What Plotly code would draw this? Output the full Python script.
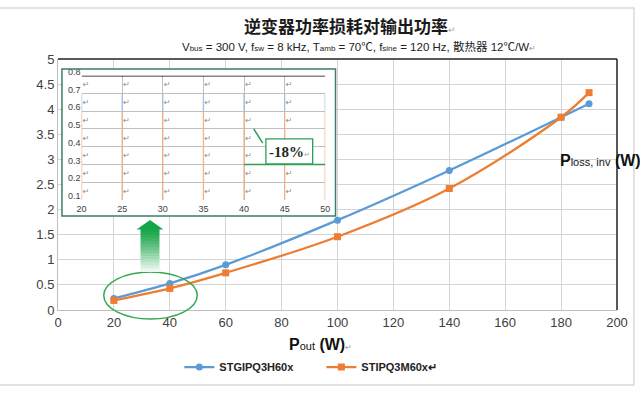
import plotly.graph_objects as go

# ---- data ----
pout = [20, 40, 60, 100, 140, 180, 190]
loss_h60 = [0.23, 0.53, 0.90, 1.79, 2.78, 3.84, 4.11]   # STGIPQ3H60x
loss_m60 = [0.19, 0.43, 0.74, 1.46, 2.42, 3.84, 4.33]   # STIPQ3M60x
series_names = ["STGIPQ3H60x", "STIPQ3M60x↵"]

main_xticks = [0, 20, 40, 60, 80, 100, 120, 140, 160, 180, 200]
main_yticks = [0, 0.5, 1, 1.5, 2, 2.5, 3, 3.5, 4, 4.5, 5]
inset_xticks = [20, 25, 30, 35, 40, 45, 50]
inset_yticks = [0.1, 0.2, 0.3, 0.4, 0.5, 0.6, 0.7, 0.8]

BLUE = "#5b9bd5"
ORANGE = "#ed7d31"
GREEN = "#2f9e55"
TEAL = "#3a7d6a"

W, H = 640, 397
L, R, T, B = 58, 20, 59, 87
PW, PH = W - L - R, H - T - B

BOX = (42.69, 48.45, 0.303, 0.444)  # -18% callout box in inset axis units


def px(x):
    return (x - L) / PW


def py(y):
    return (H - B - y) / PH


fig = go.Figure()

# main traces
fig.add_trace(go.Scatter(x=pout, y=loss_h60, name=f"<b>{series_names[0]}</b>", mode="lines+markers",
                         line=dict(color=BLUE, width=2.25, shape="spline"),
                         marker=dict(symbol="circle", size=7, color=BLUE),
                         xaxis="x", yaxis="y"))
fig.add_trace(go.Scatter(x=pout, y=loss_m60, name=f"<b>{series_names[1]}</b>", mode="lines+markers",
                         line=dict(color=ORANGE, width=2.25, shape="spline"),
                         marker=dict(symbol="square", size=7, color=ORANGE),
                         xaxis="x", yaxis="y"))

# white cover subplot (x2/y2) behind the inset
fig.add_trace(go.Scatter(x=[None], y=[None], xaxis="x2", yaxis="y2", showlegend=False,
                         hoverinfo="skip"))

# inset coloured vertical segments (x3/y3)
ox, oy, bx, by = [], [], [], []
for xv in inset_xticks:
    ox += [xv, xv, None]
    oy += [0.1, 0.6, None]
    bx += [xv, xv, None]
    by += [0.6, 0.7, None]
fig.add_trace(go.Scatter(x=ox, y=oy, mode="lines", line=dict(color="#f4b183", width=1.3),
                         xaxis="x3", yaxis="y3", showlegend=False, hoverinfo="skip"))
fig.add_trace(go.Scatter(x=bx, y=by, mode="lines", line=dict(color="#9dc3e6", width=1.3),
                         xaxis="x3", yaxis="y3", showlegend=False, hoverinfo="skip"))
fig.add_trace(go.Scatter(x=[20, 50], y=[0.8, 0.8], mode="lines", line=dict(color="#111111", width=1.5),
                         xaxis="x3", yaxis="y3", showlegend=False, hoverinfo="skip"))

# paragraph marks in the inset cells (skipping those hidden by the callout box)
mx, my = [], []
for xv in inset_xticks:
    for yv in inset_yticks[:-1]:
        mxv, myv = xv + 0.55, yv + 0.045
        if BOX[0] - 0.3 <= mxv <= BOX[1] + 0.3 and BOX[2] - 0.02 <= myv <= BOX[3] + 0.02:
            continue
        mx.append(mxv)
        my.append(myv)
fig.add_trace(go.Scatter(x=mx, y=my, mode="text", text=["↵"] * len(mx),
                         textfont=dict(size=8, color="#8c8c8c", family="DejaVu Sans"),
                         xaxis="x3", yaxis="y3", showlegend=False, hoverinfo="skip",
                         cliponaxis=False))

tickfont = dict(family="Liberation Sans, Arial", size=13, color="#404040")
inset_font = dict(family="Liberation Sans, Arial", size=9, color="#404040")

fig.update_layout(
    width=W, height=H,
    margin=dict(l=L, r=R, t=T, b=B),
    paper_bgcolor="white", plot_bgcolor="white",
    showlegend=True,
    legend=dict(orientation="h", x=px(180), y=py(367), xanchor="left", yanchor="middle",
                font=dict(family="Liberation Sans Narrow, Liberation Sans, Arial", size=11, color="#222222"),
                entrywidth=97, itemwidth=30, bgcolor="rgba(0,0,0,0)"),
    xaxis=dict(range=[0, 200], tickvals=main_xticks, showgrid=True, gridcolor="#d4d4d4", gridwidth=1,
               zeroline=False, showline=True, linecolor="#bfbfbf", tickfont=tickfont, ticks="",
               fixedrange=True),
    yaxis=dict(range=[0, 5], tickvals=main_yticks, ticktext=[str(v) for v in main_yticks],
               showgrid=True, gridcolor="#d4d4d4", gridwidth=1, zeroline=False, showline=True,
               linecolor="#bfbfbf", tickfont=tickfont, ticks="", fixedrange=True),
    xaxis2=dict(domain=[px(62), px(337)], anchor="y2", range=[0, 1], visible=False, showgrid=False),
    yaxis2=dict(domain=[py(216), py(69)], anchor="x2", range=[0, 1], visible=False, showgrid=False),
    xaxis3=dict(domain=[px(81.7), px(326.7)], anchor="y3", range=[20, 50], tickvals=inset_xticks,
                showgrid=True, gridcolor="#bfbfbf", zeroline=False, showline=False,
                tickfont=inset_font, ticks="", ticklabelstandoff=2),
    yaxis3=dict(domain=[py(200), py(75.7)], anchor="x3", range=[0.1, 0.8], tickvals=inset_yticks,
                ticktext=[f"{v:.1f}" for v in inset_yticks],
                showgrid=True, gridcolor="#bfbfbf", zeroline=False, showline=False,
                tickfont=inset_font, ticks="", ticklabelshift=-4),
)

shapes = []
# outer light frame
shapes.append(dict(type="rect", xref="paper", yref="paper", x0=px(-2), x1=px(637), y0=py(385), y1=py(8),
                   line=dict(color="#d9d9d9", width=1.5), fillcolor="rgba(0,0,0,0)", layer="below"))
# main plot top and right black borders
shapes.append(dict(type="line", xref="paper", yref="paper", x0=0, x1=1, y0=1, y1=1,
                   line=dict(color="#222222", width=1.5)))
shapes.append(dict(type="line", xref="paper", yref="paper", x0=1, x1=1, y0=0, y1=1,
                   line=dict(color="#222222", width=1.5)))
# inset green border
shapes.append(dict(type="rect", xref="paper", yref="paper", x0=px(62), x1=px(337), y0=py(216), y1=py(69),
                   line=dict(color=TEAL, width=1.5), fillcolor="rgba(0,0,0,0)"))
# -18% box and pointers (inset axes coords)
shapes.append(dict(type="line", xref="x3", yref="y3", x0=40, x1=50, y0=0.3, y1=0.3,
                   line=dict(color=GREEN, width=1.3)))
shapes.append(dict(type="rect", xref="x3", yref="y3", x0=BOX[0], x1=BOX[1], y0=BOX[2], y1=BOX[3],
                   line=dict(color=GREEN, width=1.3), fillcolor="white"))
shapes.append(dict(type="line", xref="x3", yref="y3", x0=41.2, x1=42.3, y0=0.50, y1=0.42,
                   line=dict(color=GREEN, width=1.5)))
# ellipse highlighting low-power region
shapes.append(dict(type="circle", xref="paper", yref="paper", x0=px(104), x1=px(198), y0=py(319), y1=py(272),
                   line=dict(color="#33a852", width=1.5), fillcolor="rgba(0,0,0,0)"))
# arrow shaft with fading gradient
n = 14
top, bot = 229, 272
for i in range(n):
    y0p = top + (bot - top) * i / n
    y1p = top + (bot - top) * (i + 1) / n
    a = 1 - i / n
    g_r = int(26 + (255 - 26) * (1 - a) ** 1.2)
    g_g = int(166 + (255 - 166) * (1 - a) ** 1.2)
    g_b = int(74 + (255 - 74) * (1 - a) ** 1.2)
    shapes.append(dict(type="rect", xref="paper", yref="paper", x0=px(141), x1=px(160),
                       y0=py(y1p), y1=py(y0p) + 0.002, line=dict(width=0),
                       fillcolor=f"rgb({g_r},{g_g},{g_b})"))
# arrow head
shapes.append(dict(type="path", xref="paper", yref="paper",
                   path=f"M {px(137)} {py(229.5)} L {px(150.5)} {py(220)} L {px(164)} {py(229.5)} Z",
                   line=dict(width=0), fillcolor="#14a548"))
fig.update_layout(shapes=shapes)

ann = []
ann.append(dict(xref="paper", yref="paper", x=(352 - L) / PW, y=py(26), xanchor="center", yanchor="middle",
                text="<b>逆变器功率损耗对输出功率</b><span style='font-size:9px;color:#aaaaaa'>↵</span>",
                showarrow=False, font=dict(family="Noto Sans CJK SC", size=17, color="#1a1a1a")))
ann.append(dict(xref="paper", yref="paper", x=(361 - L) / PW, y=py(46), xanchor="center", yanchor="middle",
                text=("V<span style='font-size:8px'>bus</span> = 300 V, f<span style='font-size:8px'>sw</span> = 8 kHz, "
                      "T<span style='font-size:8px'>amb</span> = 70℃, f<span style='font-size:8px'>sine</span> = 120 Hz, "
                      "散热器 12℃/W<span style='font-size:8px;color:#999999'>↵</span>"),
                showarrow=False, font=dict(family="Liberation Sans, Noto Sans CJK SC", size=11.5, color="#222222")))
ann.append(dict(xref="paper", yref="paper", x=px(288), y=py(345), xanchor="left", yanchor="middle",
                text=("<b>P</b><span style='font-size:11px'>out</span> <b>(W)</b>"
                      "<span style='font-size:8px;color:#999999'>↵</span>"),
                showarrow=False, font=dict(family="Liberation Sans, Arial", size=16, color="#111111")))
ann.append(dict(xref="paper", yref="paper", x=px(561), y=py(160), xanchor="left", yanchor="middle",
                text="<b>P</b><span style='font-size:11px'>loss, inv</span> <b>(W)</b>",
                showarrow=False, font=dict(family="Liberation Sans, Arial", size=16, color="#111111")))
ann.append(dict(xref="x3", yref="y3", x=45.55, y=0.372, xanchor="center", yanchor="middle",
                text="<b>-18%</b><span style='font-size:7px;color:#999999'>↵</span>",
                showarrow=False, font=dict(family="Liberation Serif, Times New Roman", size=15, color="#1c2b1c")))
fig.update_layout(annotations=ann)

fig.write_html("out.html", config={"displayModeBar": False},
               post_script="document.body.style.margin='0';document.body.style.padding='0';")
